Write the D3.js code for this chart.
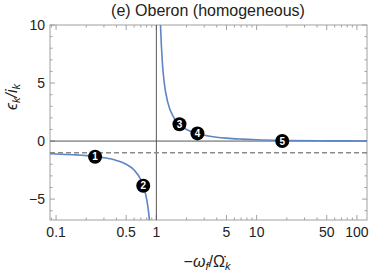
<!DOCTYPE html>
<html>
<head>
<meta charset="utf-8">
<script src="https://cdn.jsdelivr.net/npm/d3@7"></script>
<style>
body { margin: 0; background: #fff; }
text { font-family: "Liberation Sans", Arial, sans-serif; }
</style>
</head>
<body>
<svg id="chart" width="375" height="273"></svg>
<script>
// values
const leftX  = [0.085, 0.1, 0.15, 0.2, 0.3, 0.4, 0.5, 0.6, 0.7, 0.75, 0.8, 0.84, 0.87];
const leftY  = [-1.09, -1.11, -1.18, -1.25, -1.43, -1.67, -2.0, -2.5, -3.33, -4.0, -5.0, -6.25, -7.7];
const rightX = [1.09, 1.1, 1.15, 1.2, 1.3, 1.5, 1.7, 2, 2.5, 3, 4, 5, 7, 10, 20, 50, 130];
const rightY = [11.1, 10, 6.67, 5, 3.33, 2, 1.43, 1, 0.67, 0.5, 0.33, 0.25, 0.17, 0.11, 0.05, 0.02, 0.008];
const ptLabels = ["1", "2", "3", "4", "5"];
const ptX = [0.245, 0.74, 1.7, 2.57, 18];
const ptY = [-1.35, -3.85, 1.45, 0.66, 0.0];
const asymptote = -1;
const xTicks = [0.1, 0.5, 1, 5, 10, 50, 100];
const yTicks = [-5, 0, 5, 10];

const margin = { top: 25, right: 8, bottom: 53, left: 50 };
const W = 375, H = 273;
const width = W - margin.left - margin.right,
      height = H - margin.top - margin.bottom;

const svg = d3.select("#chart");
const g = svg.append("g").attr("transform", `translate(${margin.left},${margin.top})`);

const x = d3.scaleLog().domain([0.087, 126]).range([0, width]);
const y = d3.scaleLinear().domain([-6.8, 10]).range([height, 0]);

g.append("clipPath").attr("id", "clip")
  .append("rect").attr("width", width).attr("height", height);

// minor ticks
let xMinor = [];
[0.01, 0.1, 1, 10, 100].forEach(d => {
  for (let k = 1; k < 10; k++) {
    const v = d * k;
    if (v >= x.domain()[0] && v <= x.domain()[1]) xMinor.push(v);
  }
});
let yMinor = d3.range(-6, 11, 1);

const frame = g.append("g").attr("stroke", "#a0a0a0");
xMinor.forEach(v => {
  const big = xTicks.includes(v);
  const len = big ? 5 : 2.5;
  frame.append("line").attr("x1", x(v)).attr("x2", x(v)).attr("y1", height).attr("y2", height - len);
  frame.append("line").attr("x1", x(v)).attr("x2", x(v)).attr("y1", 0).attr("y2", len);
});
yMinor.forEach(v => {
  const big = yTicks.includes(v);
  const len = big ? 5 : 2.5;
  frame.append("line").attr("y1", y(v)).attr("y2", y(v)).attr("x1", 0).attr("x2", len);
  frame.append("line").attr("y1", y(v)).attr("y2", y(v)).attr("x1", width).attr("x2", width - len);
});
g.append("rect").attr("width", width).attr("height", height)
  .attr("fill", "none").attr("stroke", "#a0a0a0").attr("stroke-width", 1);

// tick labels
g.selectAll(".xt").data(xTicks).join("text")
  .attr("x", d => x(d)).attr("y", height + 17)
  .attr("text-anchor", "middle").attr("font-size", 14).attr("fill", "#222")
  .text(d => d3.format("~g")(d));
g.selectAll(".yt").data(yTicks).join("text")
  .attr("x", -5).attr("y", d => y(d) + 5)
  .attr("text-anchor", "end").attr("font-size", 14).attr("fill", "#222")
  .text(d => d < 0 ? "\u2212" + Math.abs(d) : d);

// reference lines
g.append("line").attr("x1", 0).attr("x2", width).attr("y1", y(0)).attr("y2", y(0))
  .attr("stroke", "#555").attr("stroke-width", 1);
g.append("line").attr("x1", x(1)).attr("x2", x(1)).attr("y1", 0).attr("y2", height)
  .attr("stroke", "#555").attr("stroke-width", 1);
g.append("line").attr("x1", 0).attr("x2", width).attr("y1", y(asymptote)).attr("y2", y(asymptote))
  .attr("stroke", "#8a8a8a").attr("stroke-width", 1.6).attr("stroke-dasharray", "5,3");

// curve
const line = d3.line().x(d => x(d[0])).y(d => y(d[1])).curve(d3.curveMonotoneX);
const curves = g.append("g").attr("clip-path", "url(#clip)");
[[leftX, leftY], [rightX, rightY]].forEach(([xs, ys]) => {
  curves.append("path").datum(xs.map((v, i) => [v, ys[i]]))
    .attr("d", line).attr("fill", "none")
    .attr("stroke", "#5e86c4").attr("stroke-width", 1.6);
});

// numbered points
const pts = g.selectAll(".pt").data(ptLabels).join("g")
  .attr("transform", (d, i) => `translate(${x(ptX[i])},${y(ptY[i])})`);
pts.append("circle").attr("r", 7).attr("fill", "#000");
pts.append("text").attr("text-anchor", "middle").attr("y", 3.6)
  .attr("font-size", 10).attr("font-weight", "bold").attr("fill", "#fff")
  .text(d => d);

// title and axis labels
svg.append("text").attr("x", 208).attr("y", 16).attr("text-anchor", "middle")
  .attr("font-size", 16).attr("fill", "#222").text("(e) Oberon (homogeneous)");

const xl = svg.append("text").attr("x", 207).attr("y", 267).attr("text-anchor", "middle")
  .attr("font-size", 16).attr("fill", "#222");
xl.append("tspan").text("\u2212");
xl.append("tspan").attr("font-style", "italic").text("\u03c9");
xl.append("tspan").attr("font-style", "italic").attr("font-size", 11).attr("dy", 3).text("f");
xl.append("tspan").attr("dy", -3).text("/\u03a9\u0307");
xl.append("tspan").attr("font-style", "italic").attr("font-size", 11).attr("dy", 3).text("k");

const yl = svg.append("text").attr("transform", "translate(17,97) rotate(-90)")
  .attr("text-anchor", "middle").attr("font-size", 16).attr("fill", "#222");
yl.append("tspan").attr("font-style", "italic").text("\u03f5");
yl.append("tspan").attr("font-style", "italic").attr("font-size", 11).attr("dy", 3).text("k");
yl.append("tspan").attr("dy", -3).attr("font-style", "italic").text("/i");
yl.append("tspan").attr("font-style", "italic").attr("font-size", 11).attr("dy", 3).text("k");
</script>
</body>
</html>
